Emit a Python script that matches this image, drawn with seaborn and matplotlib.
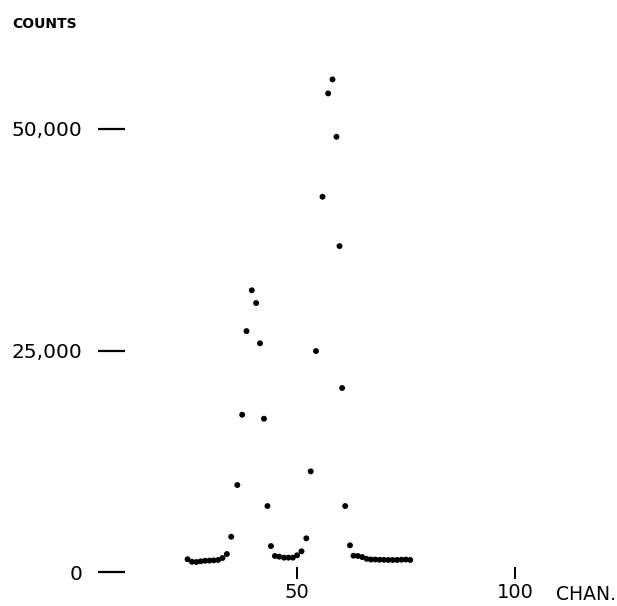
import matplotlib
matplotlib.use("Agg")
import matplotlib.pyplot as plt
import pandas as pd
import seaborn as sns

# channel / counts
tail_left_chan = [25, 26, 27, 28, 29, 30, 31, 32, 33, 34, 35]
tail_left_counts = [1470, 1190, 1160, 1240, 1300, 1320, 1350, 1390, 1610, 2060, 4010]

peak1_chan = [36.4, 37.5, 38.5, 39.7, 40.7, 41.6, 42.5, 43.3, 44.1]
peak1_counts = [9840, 17760, 27190, 31790, 30350, 25810, 17310, 7470, 2960]

valley_chan = [45.0, 46.0, 47.1, 48.1, 49.1, 50.1, 51.1, 52.2]
valley_counts = [1840, 1760, 1650, 1650, 1650, 1920, 2370, 3830]

peak2_chan = [53.2, 54.4, 55.9, 57.2, 58.2, 59.1, 59.8, 60.4, 61.1, 62.2]
peak2_counts = [11380, 24940, 42330, 53980, 55560, 49090, 36770, 20770, 7470, 3040]

tail_right_chan = [63, 64, 65, 66, 67, 68, 69, 70, 71, 72, 73, 74, 75, 76]
tail_right_counts = [1870, 1840, 1720, 1520, 1440, 1440, 1410, 1410, 1390, 1390,
                     1390, 1420, 1440, 1390]

y_ticks = [0, 25000, 50000]
y_labels = ["0", "25,000", "50,000"]
x_ticks = [50, 100]
x_labels = ["50", "100"]

df = pd.DataFrame({
    "chan": tail_left_chan + peak1_chan + valley_chan + peak2_chan + tail_right_chan,
    "counts": tail_left_counts + peak1_counts + valley_counts + peak2_counts + tail_right_counts,
})

sns.set_style("white")
plt.rcParams["font.family"] = ["DejaVu Sans"]
plt.rcParams["text.color"] = "black"

fig = plt.figure(figsize=(6.17, 6.06), dpi=100)
ax = fig.add_axes([125 / 617, 27 / 606, 435 / 617, 539 / 606])

sns.scatterplot(data=df, x="chan", y="counts", ax=ax, color="black",
                s=18, edgecolor="none", legend=False)

ax.set_xlim(10.67, 110.3)
ax.set_ylim(-755, 60000)
for s in ax.spines.values():
    s.set_visible(False)

ax.set_yticks(y_ticks, y_labels)
ax.set_xticks(x_ticks, x_labels)
ax.tick_params(axis="y", left=True, direction="out", length=19.5, width=1.6, pad=11,
               labelsize=14.5, color="black", labelcolor="black")
ax.tick_params(axis="x", bottom=True, direction="in", length=8.5, width=1.4, pad=3,
               labelsize=14, color="black", labelcolor="black")
ax.set_xlabel("")
ax.set_ylabel("")

fig.text(12 / 617, 1 - 24 / 606, "COUNTS", fontsize=10, fontweight="bold",
         ha="left", va="center", color="black")
fig.text(556 / 617, 1 - 594 / 606, "CHAN.", fontsize=13.5, ha="left", va="center",
         color="black")

fig.savefig("out.png", dpi=100, facecolor="white")
